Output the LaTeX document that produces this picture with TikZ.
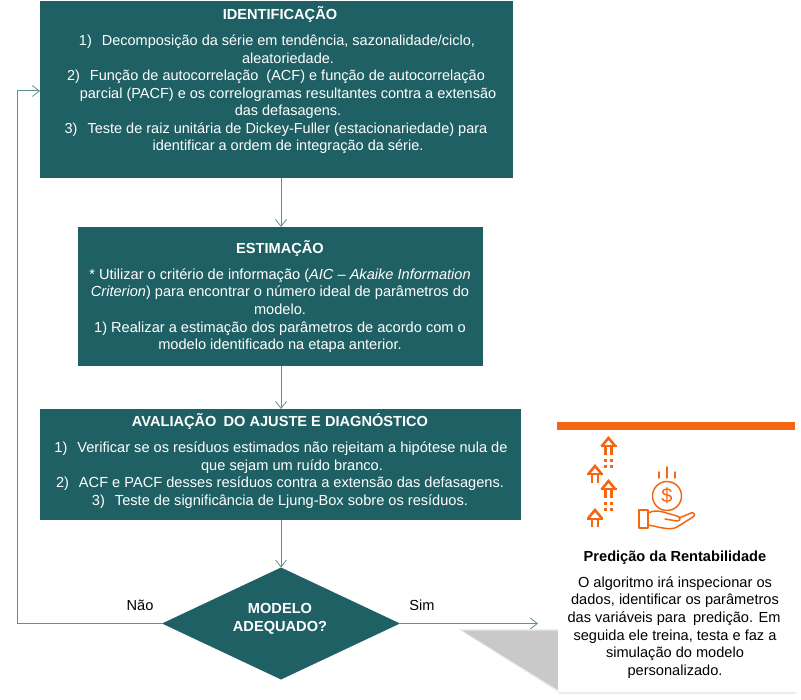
\documentclass[tikz,border=0pt]{standalone}
\usepackage{fontspec}
\setmainfont{Liberation Sans}
\usetikzlibrary{arrows.meta,shapes.geometric}
\definecolor{teal}{HTML}{1F6065}
\definecolor{lnk}{HTML}{5F8F93}
\definecolor{org}{HTML}{F4660F}
\tikzset{x=1pt,y=-1pt,
 tealbox/.style={fill=teal,draw=none,inner sep=0,outer sep=0},
 txt/.style={inner sep=0,anchor=center,text height=10pt,text depth=3pt,yshift=-1.5pt},
 wt/.style={txt,text=white,font=\fontsize{14.6}{17}\selectfont},
 wta/.style={txt,text=white,font=\fontsize{14.5}{17}\selectfont},
 wh/.style={txt,text=white,font=\fontsize{14.6}{17}\selectfont\bfseries},
 bk/.style={txt,text=black,font=\fontsize{14.6}{17}\selectfont},
 bh/.style={txt,text=black,font=\fontsize{14.6}{17}\selectfont\bfseries},
 link/.style={draw=lnk,line width=1pt,-{Straight Barb[length=7pt,width=11pt,line width=.8pt]}},
 ic/.style={draw=org,line width=1.5pt,line join=round,line cap=round},
 upp/.pic={\draw[draw=org,line width=2.6pt,line join=miter] (-7,9.5)--(0,1)--(7,9.5);
           \draw[draw=org,line width=2pt] (-8,9.5)--(8,9.5);
           \draw[draw=org,line width=2.2pt] (-3,9)--(-3,18) (3,9)--(3,18);}
}
\begin{document}
\begin{tikzpicture}
\useasboundingbox (0,0) rectangle (801,700);
% shadow
\fill[gray!14] (458,629) -- (558,629) -- (558,692) -- cycle;
\fill[black!21] (462,630.5) -- (558,630.5) -- (558,690) -- cycle;
% card
\fill[black!7] (558,691) rectangle (796,693.5);
\node[fill=white,inner sep=0,outer sep=0,minimum width=238pt,minimum height=262pt,anchor=north west] (card) at (558,430) {};
\node[fill=org,inner sep=0,outer sep=0,minimum width=238pt,minimum height=8pt,anchor=north west] (bar) at (557,422) {};
% boxes
\node[tealbox,minimum width=473pt,minimum height=177pt,anchor=north west] (b1) at (40,1) {};
\node[tealbox,minimum width=405pt,minimum height=139pt,anchor=north west] (b2) at (78,227) {};
\node[tealbox,minimum width=481pt,minimum height=111pt,anchor=north west] (b3) at (40,409) {};
\node[fill=teal,diamond,aspect=2.13,inner sep=0,outer sep=0,minimum width=238pt,minimum height=112pt] (d) at (281,623.5) {};
% b1 text
\node[wh] (t1) at (280,15) {IDENTIFICAÇÃO};
\node[wta] (t11) at (277,41) {1)\hspace{10pt}Decomposição da série em tendência, sazonalidade/ciclo,};
\node[wta] (t12) at (288,59) {aleatoriedade.};
\node[wta] (t13) at (276,76) {2)\hspace{10pt}Função de autocorrelação\hspace{4pt} (ACF) e função de autocorrelação};
\node[wta] (t14) at (288,94) {parcial (PACF) e os correlogramas resultantes contra a extensão};
\node[wta] (t15) at (288,111) {das defasagens.};
\node[wta] (t16) at (276,129) {3)\hspace{10pt}Teste de raiz unitária de Dickey-Fuller (estacionariedade) para};
\node[wta] (t17) at (288,146) {identificar a ordem de integração da série.};
% b2 text
\node[wh] (t2) at (280,249) {ESTIMAÇÃO};
\node[wt] (t21) at (280,275) {* Utilizar o critério de informação (\textit{AIC – Akaike Information}};
\node[wt] (t22) at (280,292) {\textit{Criterion}) para encontrar o número ideal de parâmetros do};
\node[wt] (t23) at (280,310) {modelo.};
\node[wt] (t24) at (280,328) {1) Realizar a estimação dos parâmetros de acordo com o};
\node[wt] (t25) at (280,345) {modelo identificado na etapa anterior.};
% b3 text
\node[wh] (t3) at (280,422) {AVALIAÇÃO\hspace{3pt} DO AJUSTE E DIAGNÓSTICO};
\node[wt] (t31) at (281,448) {1)\hspace{10pt}Verificar se os resíduos estimados não rejeitam a hipótese nula de};
\node[wt] (t32) at (292,466) {que sejam um ruído branco.};
\node[wt] (t33) at (280,483) {2)\hspace{10pt}ACF e PACF desses resíduos contra a extensão das defasagens.};
\node[wt] (t34) at (280,501) {3)\hspace{10pt}Teste de significância de Ljung-Box sobre os resíduos.};
% diamond text
\node[wh] (dt1) at (280,608) {MODELO};
\node[wh] (dt2) at (280,626) {ADEQUADO?};
% labels
\node[bk] (nao) at (140,605) {Não};
\node[bk] (sim) at (422,605) {Sim};
% connectors
\coordinate (backc) at (17,623.5);
\coordinate (backt) at (17,91);
\coordinate (simend) at (538,623.5);
\draw[link] (281,178) -- (281,227);
\draw[link] (281,366) -- (281,409);
\draw[link] (281,520) -- (d.north);
\draw[link] (d.west) -- (backc) -- (backt) -- (40,91);
\draw[link] (d.east) -- (simend);
% card text
\node[bh] (ph) at (675,556) {Predição da Rentabilidade};
\node[bk] (p1) at (675,582) {O algoritmo irá inspecionar os};
\node[bk] (p2) at (675,599) {dados, identificar os parâmetros};
\node[bk] (p3) at (674,617) {das variáveis para\hspace{3pt} predição. Em};
\node[bk] (p4) at (675,635) {seguida ele treina, testa e faz a};
\node[bk] (p5) at (675,652) {simulação do modelo};
\node[bk] (p6) at (675,670) {personalizado.};
% icons: arrows
\pic at (608.5,437) {upp};
\pic at (595,465) {upp};
\pic at (608.5,480) {upp};
\pic at (595,509) {upp};
\foreach \px/\py in {605/461,611/461,605/467,611/467,605/504,611/504,605/510,611/510}
  \fill[org] (\px-1.5,\py-1.5) rectangle (\px+1.5,\py+1.5);
% coin
\draw[ic] (667,496) circle (14.5);
\node[text=org,font=\fontsize{20}{20}\selectfont,inner sep=0] (dollar) at (667,496) {\$};
\draw[ic] (667,467)--(667,478) (659,472)--(659,478) (675,472)--(675,478);
% hand
\draw[ic] (639,510) rectangle (648,528);
\draw[ic] (648,513) .. controls (654,510) and (659,511) .. (663,512) -- (677,516) .. controls (681,517) and (681,521) .. (677,521) -- (665,519) (679,518) -- (691,513) .. controls (694,512) and (696,515) .. (693,517) -- (677,527) .. controls (670,531) and (660,527) .. (648,525);
\end{tikzpicture}
\end{document}
